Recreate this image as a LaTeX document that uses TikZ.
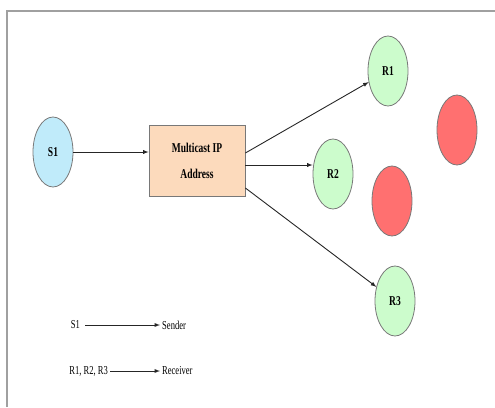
\documentclass[tikz,border=0pt]{standalone}
\usepackage{fontspec}
\setmainfont{Liberation Serif}
\usepackage{graphicx}
\usepackage{tikz}
\usetikzlibrary{positioning}
\usetikzlibrary{calc}
\usetikzlibrary{shapes.geometric}
\usepackage{color}
\definecolor{framegray}{RGB}{160,160,160}
\definecolor{bordergray}{RGB}{120,120,120}
\definecolor{mylightblue}{RGB}{192,235,250}
\definecolor{mylightgreen}{RGB}{204,252,204}
\definecolor{mypeach}{RGB}{252,218,188}
\definecolor{myred}{RGB}{255,112,112}
\newcommand{\widthhost}{40pt}
\newcommand{\heighthost}{70pt}
\newcommand{\tall}[1]{\scalebox{0.95}[1.35]{#1}}
\tikzset{
    common/.style={draw=bordergray, line width=0.8pt, font=\fontsize{10}{12}\selectfont\bfseries},
    host/.style={common, ellipse, minimum width=\widthhost, minimum height=\heighthost, inner sep=0pt},
    sender/.style={host, fill=mylightblue},
    receiver/.style={host, fill=mylightgreen},
    dropped/.style={host, fill=myred},
    castbox/.style={common, rectangle, fill=mypeach, minimum width=96pt, minimum height=71pt,
        align=center, font=\fontsize{10}{28}\selectfont\bfseries},
    legend/.style={font=\fontsize{9}{11}\selectfont, inner sep=2pt},
    flow/.style={->, >=latex, line width=0.9pt, draw=black!85},
}

\begin{document}
\begin{tikzpicture}[x=1pt, y=-1pt]
    \useasboundingbox (0,0) rectangle (495,407);
    \draw[framegray, line width=1.5pt] (7,407) -- (7,11) -- (495,11);

    \node[sender] (S1) at (53,152) {\tall{S1}};
    \node[castbox] (cast-box) at (197,160.5) {\tall{Multicast IP}\\[-2pt]\tall{Address}};
    \node[receiver] (R1) at (388,71) {\tall{R1}};
    \node[receiver] (R2) at (333,174) {\tall{R2}};
    \node[receiver] (R3) at (395,301) {\tall{R3}};
    \node[dropped] (drop-A) at (457,130) {};
    \node[dropped] (drop-B) at (392,201) {};

    \coordinate (cast-R1) at ([yshift=7.5pt]cast-box.east);
    \coordinate (cast-R2) at ([yshift=-4.5pt]cast-box.east);
    \coordinate (cast-R3) at ([yshift=-27.5pt]cast-box.east);

    \draw[flow] (S1) -- (S1 -| cast-box.west);
    \draw[flow] (cast-R1) -- (R1);
    \draw[flow] (cast-R2) -- (cast-R2 -| R2.west);
    \draw[flow] (cast-R3) -- (R3);

    % legend
    \node[legend, anchor=east] (leg-S1) at (82,325) {\tall{S1}};
    \node[legend, anchor=west] (leg-sender) at (160,325) {\tall{Sender}};
    \node[legend, anchor=east] (leg-R) at (110,371) {\tall{R1, R2, R3}};
    \node[legend, anchor=west] (leg-receiver) at (160,371) {\tall{Receiver}};
    \draw[flow] ([xshift=3pt]leg-S1.east) -- (leg-sender.west);
    \draw[flow] (leg-R.east) -- (leg-receiver.west);
\end{tikzpicture}
\end{document}
